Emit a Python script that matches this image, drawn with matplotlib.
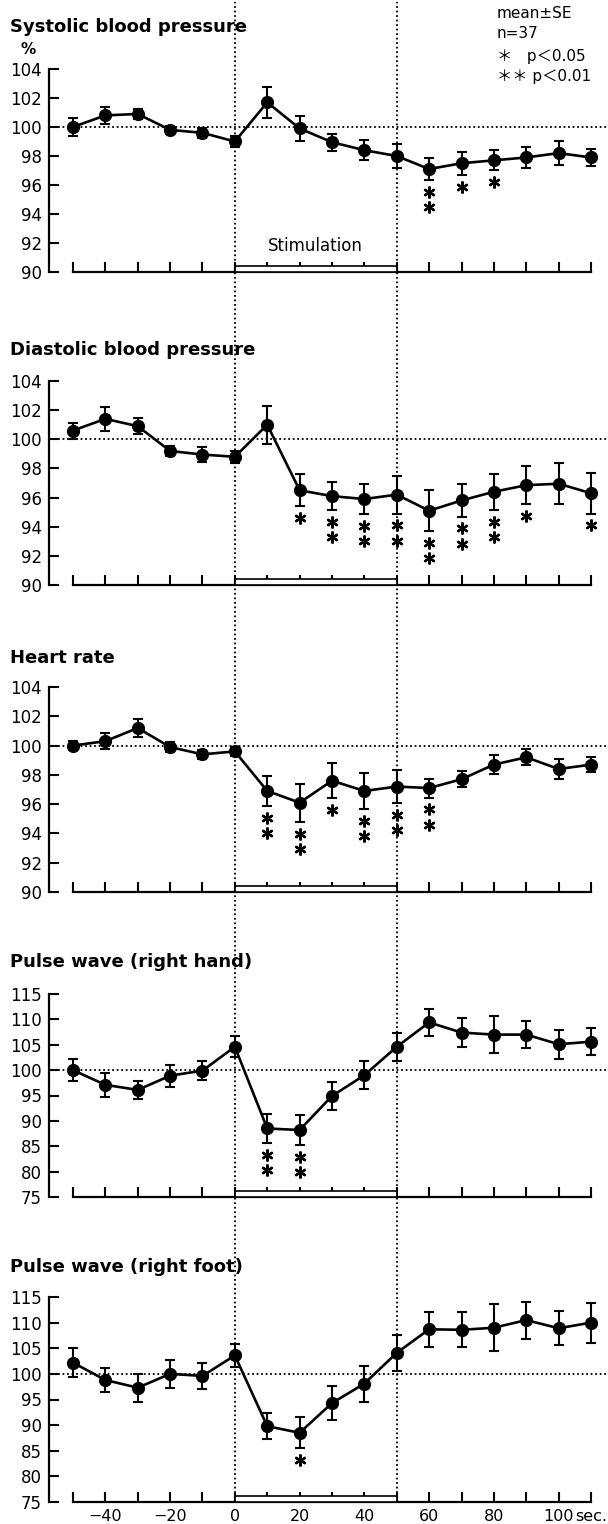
import numpy as np
import matplotlib
matplotlib.use("Agg")
import matplotlib.pyplot as plt
from matplotlib.patches import Rectangle
from matplotlib.transforms import offset_copy

plt.rcParams['font.family'] = ['DejaVu Sans', 'Noto Sans CJK JP']

times = [-50, -40, -30, -20, -10, 0, 10, 20, 30, 40, 50, 60, 70, 80, 90, 100, 110]

sbp_mean = [100.0, 100.8, 100.9, 99.8, 99.6, 99.0, 101.7, 99.9, 98.95, 98.4, 98.0, 97.1, 97.5, 97.7, 97.9, 98.2, 97.9]
sbp_se = [0.6, 0.6, 0.35, 0.3, 0.35, 0.4, 1.05, 0.85, 0.6, 0.7, 0.8, 0.75, 0.8, 0.7, 0.7, 0.8, 0.6]
sbp_sig = [0, 0, 0, 0, 0, 0, 0, 0, 0, 0, 0, 2, 1, 1, 0, 0, 0]

dbp_mean = [100.6, 101.4, 100.9, 99.2, 98.95, 98.8, 101.0, 96.5, 96.1, 95.9, 96.2, 95.1, 95.8, 96.4, 96.85, 96.95, 96.3]
dbp_se = [0.55, 0.8, 0.55, 0.35, 0.5, 0.4, 1.3, 1.1, 0.95, 1.05, 1.3, 1.4, 1.1, 1.25, 1.3, 1.4, 1.4]
dbp_sig = [0, 0, 0, 0, 0, 0, 0, 1, 2, 2, 2, 2, 2, 2, 1, 0, 1]

hr_mean = [100.0, 100.3, 101.2, 99.9, 99.4, 99.6, 96.9, 96.1, 97.6, 96.9, 97.2, 97.1, 97.7, 98.7, 99.2, 98.4, 98.7]
hr_se = [0.3, 0.55, 0.6, 0.35, 0.3, 0.3, 1.05, 1.3, 1.2, 1.25, 1.15, 0.65, 0.55, 0.65, 0.55, 0.65, 0.5]
hr_sig = [0, 0, 0, 0, 0, 0, 2, 2, 1, 2, 2, 2, 0, 0, 0, 0, 0]

hand_mean = [100.0, 97.1, 96.1, 98.9, 99.9, 104.6, 88.5, 88.2, 94.9, 99.0, 104.6, 109.4, 107.4, 107.0, 107.0, 105.1, 105.6]
hand_se = [2.1, 2.3, 1.8, 2.2, 1.9, 2.1, 2.8, 2.9, 2.8, 2.8, 2.8, 2.6, 2.9, 3.6, 2.7, 2.9, 2.7]
hand_sig = [0, 0, 0, 0, 0, 0, 2, 2, 0, 0, 0, 0, 0, 0, 0, 0, 0]

foot_mean = [102.2, 98.8, 97.3, 100.0, 99.6, 103.6, 89.8, 88.5, 94.3, 98.1, 104.1, 108.7, 108.6, 109.0, 110.5, 108.9, 110.0]
foot_se = [2.8, 2.4, 2.7, 2.8, 2.5, 2.3, 2.5, 3.0, 3.3, 3.5, 3.5, 3.4, 3.4, 4.6, 3.6, 3.3, 3.9]
foot_sig = [0, 0, 0, 0, 0, 0, 0, 1, 0, 0, 0, 0, 0, 0, 0, 0, 0]

titles = ["Systolic blood pressure", "Diastolic blood pressure", "Heart rate",
          "Pulse wave (right hand)", "Pulse wave (right foot)"]
ticks_bp = [90, 92, 94, 96, 98, 100, 102, 104]
ticks_pw = [75, 80, 85, 90, 95, 100, 105, 110, 115]
xlabels = {-40: "−40", -20: "−20", 0: "0", 20: "20", 40: "40", 60: "60", 80: "80", 100: "100"}

W, H = 608, 1524
fig = plt.figure(figsize=(W / 100, H / 100), dpi=100)

# pixel layout: (top of y axis, x-axis line, title centre)
layout = [(69, 272, 27), (381, 585, 350), (687, 892, 658), (994, 1197, 962), (1297, 1502, 1267)]
ax_left, ax_right = 49, 597.5
xlim = (-57.4, 112)

series = [(sbp_mean, sbp_se, sbp_sig, ticks_bp), (dbp_mean, dbp_se, dbp_sig, ticks_bp),
          (hr_mean, hr_se, hr_sig, ticks_bp), (hand_mean, hand_se, hand_sig, ticks_pw),
          (foot_mean, foot_se, foot_sig, ticks_pw)]

for i, ((top, bot, ty), (mean, se, sig, yt)) in enumerate(zip(layout, series)):
    ax = fig.add_axes([ax_left / W, 1 - bot / H, (ax_right - ax_left) / W, (bot - top) / H])
    ax.set_xlim(*xlim)
    ax.set_ylim(yt[0], yt[-1])
    for s in ['top', 'right']:
        ax.spines[s].set_visible(False)
    ax.spines['left'].set_linewidth(1.6)
    ax.spines['bottom'].set_linewidth(1.6)
    ax.spines['bottom'].set_bounds(-50, 110)
    ax.set_yticks(yt)
    ax.set_xticks(times)
    ax.tick_params(axis='both', direction='in', length=7, width=1.5, labelsize=12, colors='black')
    ax.tick_params(axis='y', pad=5)
    ax.tick_params(axis='x', pad=5, labelsize=11.5)
    if i == 4:
        ax.set_xticklabels([xlabels.get(t, '') for t in times])
        ax.annotate('sec.', xy=(100, 0), xycoords=('data', 'axes fraction'), xytext=(12, -5),
                    textcoords='offset points', ha='left', va='top', fontsize=11.5)
    else:
        ax.set_xticklabels([])

    ax.plot([0, 1.015], [100, 100], transform=ax.get_yaxis_transform(), color='black',
            ls=(0, (1, 1.5)), lw=1.3, clip_on=False, zorder=1)
    ax.add_patch(Rectangle((0, 0), 50, 6 / (bot - top), transform=ax.get_xaxis_transform(),
                           facecolor='white', edgecolor='black', lw=1.2, zorder=3))
    ax.errorbar(times, mean, yerr=se, fmt='o-', color='black', ms=8.5, lw=1.9,
                elinewidth=1.5, capsize=3.5, capthick=1.5, clip_on=False, zorder=4)

    for t, m, e, n in zip(times, mean, se, sig):
        for k in range(n):
            tr = offset_copy(ax.transData, fig=fig, y=-(8.5 + 11 * k), units='points')
            ax.plot([t], [m - e], marker=(6, 2, 0), ms=8.5, mew=1.7, color='black',
                    transform=tr, clip_on=False, zorder=5)

    fig.text(10 / W, 1 - ty / H, titles[i], fontsize=13, fontweight='bold', va='center', ha='left')
    if i == 0:
        ax.text(25, (bot - 246) / (bot - top), 'Stimulation', transform=ax.get_xaxis_transform(),
                ha='center', va='center', fontsize=12)

fig.text(28 / W, 1 - 50 / H, '%', fontsize=11, fontweight='bold', ha='center', va='center')

over = fig.add_axes([ax_left / W, 0, (ax_right - ax_left) / W, 1])
over.set_xlim(*xlim)
over.set_ylim(0, 1)
over.axis('off')
over.vlines([0, 50], (H - 1502) / H, 1 - 2 / H, colors='black', linestyles=[(0, (1, 1.5))], lw=1.3)

legend_lines = ['mean±SE', 'n=37', '＊   p＜0.05', '＊＊ p＜0.01']
for txt, yy in zip(legend_lines, [14, 34, 56, 77]):
    fig.text(497 / W, 1 - yy / H, txt, fontsize=11, ha='left', va='center')

fig.savefig('out.png', dpi=100)
